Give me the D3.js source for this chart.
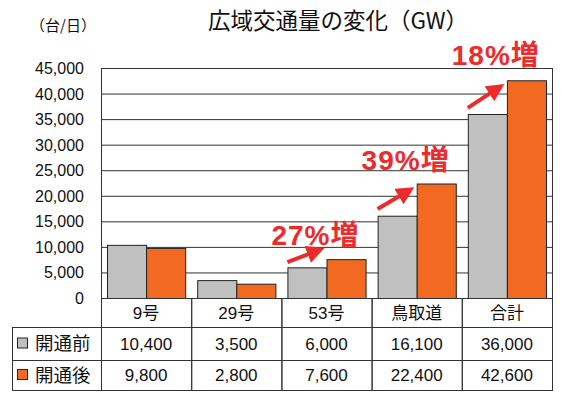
<!DOCTYPE html>
<html>
<head>
<meta charset="utf-8">
<script src="https://cdn.jsdelivr.net/npm/d3@7"></script>
<style>
  body { margin: 0; background: #fff; }
  svg text { font-family: "Liberation Sans", Arial, "Noto Sans CJK JP", sans-serif; fill: #111; }
</style>
</head>
<body>
<svg id="chart" width="562" height="414"></svg>
<script>
// data
var categories = ["9号", "29号", "53号", "鳥取道", "合計"];
var seriesNames = ["開通前", "開通後"];
var before = [10400, 3500, 6000, 16100, 36000];
var after = [9800, 2800, 7600, 22400, 42600];
var yTicks = [0, 5000, 10000, 15000, 20000, 25000, 30000, 35000, 40000, 45000];

// increase notes: category, text, arrow from/to (in y units), label baseline (y units)
var noteCats = ["53号", "鳥取道", "合計"];
var noteTexts = ["27%増", "39%増", "18%増"];
var arrowFrom = [7000, 17400, 37200];
var arrowTo = [10000, 21700, 41900];
var noteAt = [10400, 25000, 45600];

var colors = ["#c0c0c0", "#f26a21"];

var svg = d3.select("#chart");
var m = {left: 101, right: 552, top: 68, bottom: 298};

var x = d3.scaleBand().domain(categories).range([m.left, m.right]).padding(0);
var x1 = d3.scaleBand().domain(seriesNames).range([0, x.bandwidth()])
  .paddingInner(0).paddingOuter(6 / 39);
var y = d3.scaleLinear().domain([0, 45000]).range([m.bottom, m.top]);

// title and unit
svg.append("text").attr("x", 338).attr("y", 29).attr("text-anchor", "middle")
  .style("font-family", "'Noto Sans CJK JP', sans-serif")
  .style("font-size", "22.5px").text("広域交通量の変化（GW）");
svg.append("text").attr("x", 30).attr("y", 31)
  .style("font-family", "'Noto Sans CJK JP', sans-serif")
  .style("font-size", "15px").text("（台/日）");

// gridlines
svg.append("g").selectAll("line").data(yTicks.filter(function(d) { return d > 0 && d < 45000; }))
  .enter().append("line")
  .attr("x1", m.left).attr("x2", m.right)
  .attr("y1", function(d) { return y(d) + 0.5; }).attr("y2", function(d) { return y(d) + 0.5; })
  .attr("stroke", "#333").attr("stroke-width", 1);

// y tick labels
svg.append("g").selectAll("text").data(yTicks).enter().append("text")
  .attr("x", 84).attr("y", function(d) { return y(d) + 6; })
  .attr("text-anchor", "end").style("font-size", "16px")
  .text(function(d) { return d3.format(",")(d); });

// bars
var groups = svg.append("g").selectAll("g").data(categories).enter().append("g")
  .attr("transform", function(d) { return "translate(" + x(d) + ",0)"; });
groups.selectAll("rect")
  .data(function(d, i) { return [before[i], after[i]]; })
  .enter().append("rect")
  .attr("x", function(d, j) { return x1(seriesNames[j]) + 0.5; })
  .attr("y", function(d) { return y(d) + 0.5; })
  .attr("width", x1.bandwidth())
  .attr("height", function(d) { return m.bottom - y(d); })
  .attr("fill", function(d, j) { return colors[j]; })
  .attr("stroke", "#222").attr("stroke-width", 1);

// plot frame
svg.append("rect").attr("x", m.left + 0.5).attr("y", m.top + 0.5)
  .attr("width", m.right - m.left).attr("height", m.bottom - m.top)
  .attr("fill", "none").attr("stroke", "#333");

// arrows and notes
svg.append("defs").append("marker").attr("id", "head")
  .attr("viewBox", "0 0 10 10").attr("refX", 7).attr("refY", 5)
  .attr("markerWidth", 4.5).attr("markerHeight", 4.5).attr("orient", "auto")
  .append("path").attr("d", "M0,0L10,5L0,10z").attr("fill", "#ee2b2b");

noteCats.forEach(function(c, i) {
  svg.append("line")
    .attr("x1", x(c) + x1(seriesNames[0])).attr("y1", y(arrowFrom[i]))
    .attr("x2", x(c) + x1(seriesNames[1]) - 7).attr("y2", y(arrowTo[i]) + 3)
    .attr("stroke", "#ee2b2b").attr("stroke-width", 4)
    .attr("marker-end", "url(#head)");
  svg.append("text").attr("x", x(c) - 10).attr("y", y(noteAt[i]))
    .style("font-size", "28px").style("font-weight", "bold")
    .style("letter-spacing", "1px").style("fill", "#ee2b2b")
    .text(noteTexts[i]);
});

// data table
var rowY = [298, 327, 360, 390];
var table = svg.append("g");
categories.forEach(function(c, i) {
  table.append("rect").attr("x", x(c) + 0.5).attr("y", rowY[0] + 0.5)
    .attr("width", x.bandwidth()).attr("height", rowY[1] - rowY[0])
    .attr("fill", "none").attr("stroke", "#333");
  table.append("text").attr("x", x(c) + x.bandwidth() / 2).attr("y", (rowY[0] + rowY[1]) / 2 + 6)
    .attr("text-anchor", "middle").style("font-size", "17px").text(c);
  [before, after].forEach(function(vals, r) {
    table.append("rect").attr("x", x(c) + 0.5).attr("y", rowY[r + 1] + 0.5)
      .attr("width", x.bandwidth()).attr("height", rowY[r + 2] - rowY[r + 1])
      .attr("fill", "none").attr("stroke", "#333");
    table.append("text").attr("x", x(c) + x.bandwidth() / 2).attr("y", (rowY[r + 1] + rowY[r + 2]) / 2 + 6)
      .attr("text-anchor", "middle").style("font-size", "17px")
      .text(d3.format(",")(vals[i]));
  });
});
seriesNames.forEach(function(s, r) {
  table.append("rect").attr("x", 12.5).attr("y", rowY[r + 1] + 0.5)
    .attr("width", m.left - 12).attr("height", rowY[r + 2] - rowY[r + 1])
    .attr("fill", "none").attr("stroke", "#333");
  var cy = (rowY[r + 1] + rowY[r + 2]) / 2;
  table.append("rect").attr("x", 17.5).attr("y", cy - 5.5)
    .attr("width", 10).attr("height", 10)
    .attr("fill", colors[r]).attr("stroke", "#222");
  table.append("text").attr("x", 35).attr("y", cy + 6.5)
    .style("font-family", "'Noto Sans CJK JP', sans-serif")
    .style("font-size", "18.5px").text(s);
});
</script>
</body>
</html>
